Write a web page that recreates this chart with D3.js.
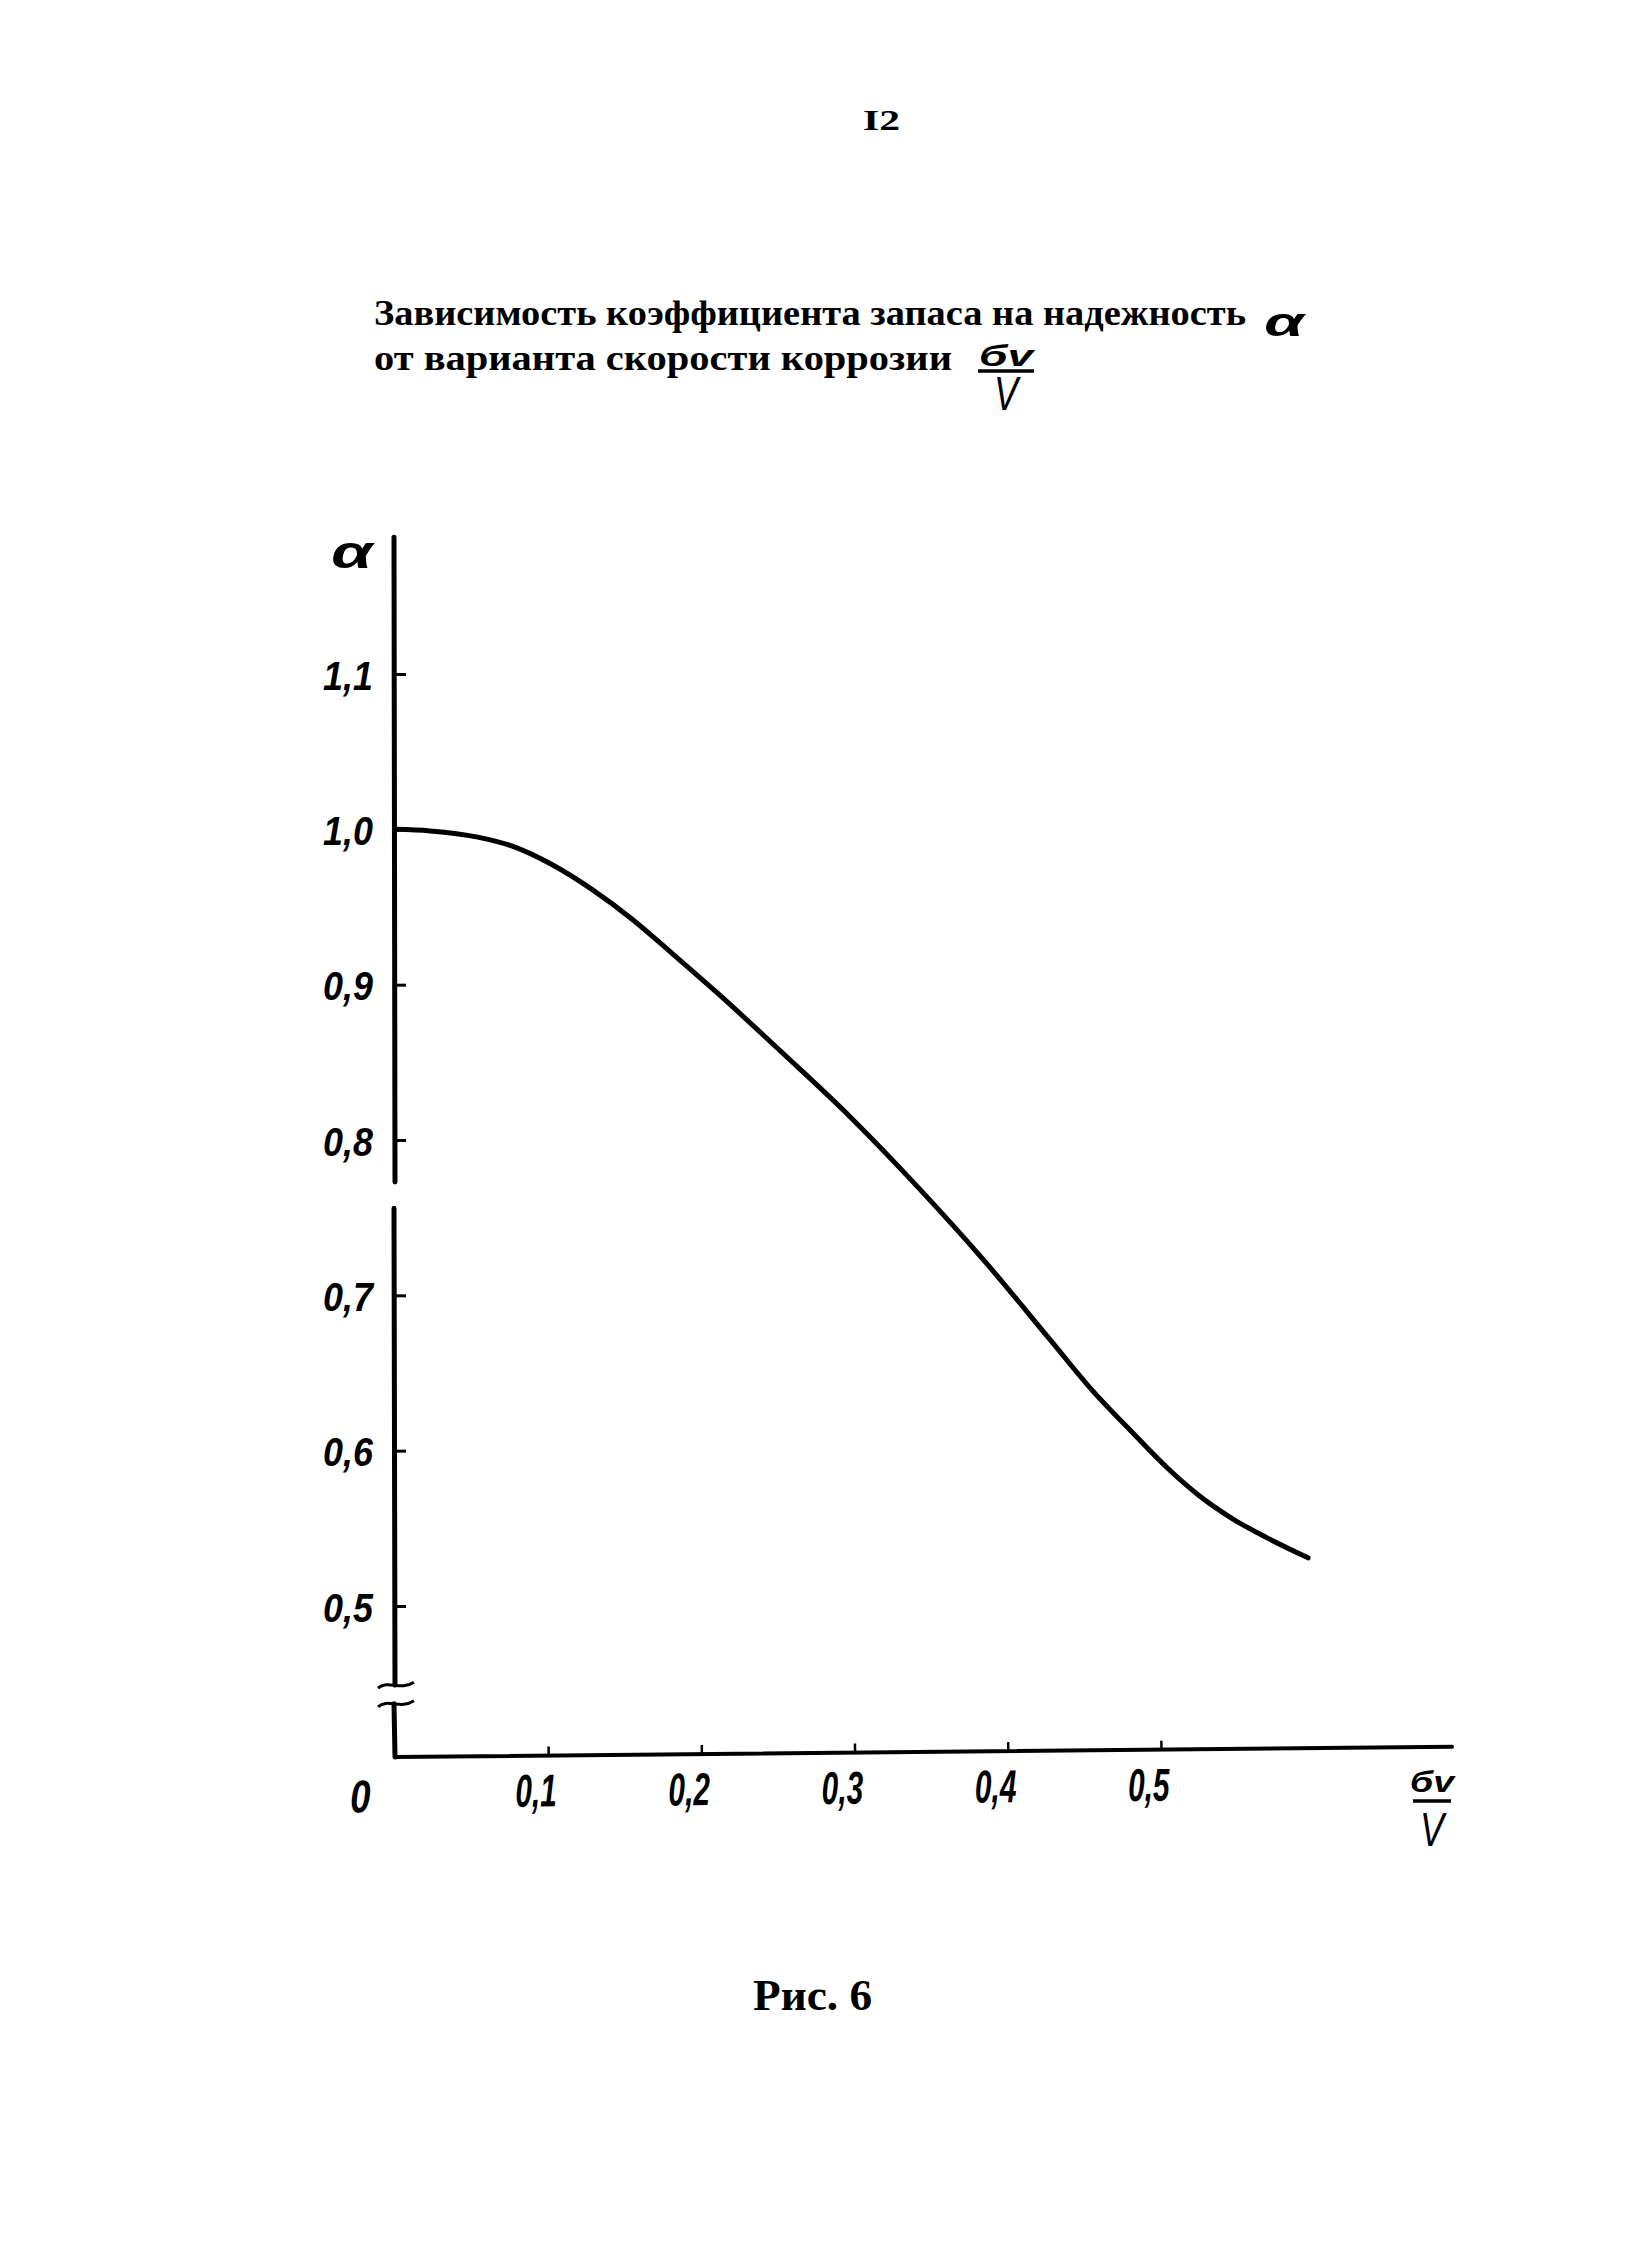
<!DOCTYPE html>
<html><head><meta charset="utf-8">
<script src="https://cdn.jsdelivr.net/npm/d3@7"></script>
<style>body{margin:0;background:#fff}svg{display:block}</style></head>
<body><svg id="c" width="1635" height="2248"></svg>
<script>
// ---- data ----
const pageNumber = "I2";
const titleLine1 = "Зависимость коэффициента запаса на надежность";
const titleLine2 = "от варианта скорости коррозии";
const titleSymbol = "α";
const figureCaption = "Рис. 6";
const yAxisTitle = "α";
const fracNumerator = "бv";
const fracDenominator = "V";
const originLabel = "0";
const xTicks = [0.1, 0.2, 0.3, 0.4, 0.5];
const xTickLabels = ["0,1", "0,2", "0,3", "0,4", "0,5"];
const yTicks = [1.1, 1.0, 0.9, 0.8, 0.7, 0.6, 0.5];
const yTickLabels = ["1,1", "1,0", "0,9", "0,8", "0,7", "0,6", "0,5"];
const ratio = [0, 0.023, 0.054, 0.077, 0.103, 0.129, 0.155, 0.181, 0.21, 0.253, 0.297, 0.341, 0.384, 0.428, 0.455, 0.482, 0.504, 0.525, 0.547, 0.569, 0.596];
const alpha = [1.0, 0.999, 0.995, 0.989, 0.977, 0.961, 0.942, 0.92, 0.895, 0.856, 0.815, 0.77, 0.723, 0.671, 0.639, 0.611, 0.589, 0.571, 0.556, 0.544, 0.531];

// ---- layout ----
const svg = d3.select("#c");
svg.append("rect").attr("width", 1635).attr("height", 2248).attr("fill", "#fff");
const x = d3.scaleLinear().domain([0, 0.5]).range([395, 1161]);
const y = d3.scaleLinear().domain([0.5, 1.1]).range([1606, 674]);
const baseY = 1757;
const ink = "#000";
const serif = "'Liberation Serif', 'DejaVu Serif', serif";
const hand = "'Liberation Sans', 'DejaVu Sans', sans-serif";

// page number
svg.append("text").text(pageNumber)
  .attr("x", 863).attr("y", 130)
  .attr("font-family", serif).attr("font-weight", "bold").attr("font-size", 30)
  .attr("textLength", 37).attr("lengthAdjust", "spacingAndGlyphs").attr("fill", ink);

// title
svg.append("text").text(titleLine1)
  .attr("x", 374).attr("y", 325)
  .attr("font-family", serif).attr("font-weight", "bold").attr("font-size", 36)
  .attr("textLength", 872).attr("lengthAdjust", "spacingAndGlyphs").attr("fill", ink);
svg.append("text").text(titleSymbol)
  .attr("transform", "translate(1284,336) scale(1.6,1)")
  .attr("text-anchor", "middle")
  .attr("font-family", hand).attr("font-style", "italic").attr("font-weight", "bold").attr("font-size", 40).attr("fill", ink);
svg.append("text").text(titleLine2)
  .attr("x", 374).attr("y", 370)
  .attr("font-family", serif).attr("font-weight", "bold").attr("font-size", 36)
  .attr("textLength", 578).attr("lengthAdjust", "spacingAndGlyphs").attr("fill", ink);

function fraction(cx, numBase, barY, denBase, numW, barW) {
  svg.append("text").text(fracNumerator)
    .attr("x", cx - numW / 2).attr("y", numBase)
    .attr("font-family", hand).attr("font-style", "italic").attr("font-weight", "bold").attr("font-size", 30)
    .attr("textLength", numW).attr("lengthAdjust", "spacingAndGlyphs").attr("fill", ink);
  svg.append("line").attr("x1", cx - barW / 2).attr("x2", cx + barW / 2)
    .attr("y1", barY).attr("y2", barY).attr("stroke", ink).attr("stroke-width", 3.5);
  svg.append("text").text(fracDenominator)
    .attr("transform", `translate(${cx},${denBase}) scale(0.75,1)`)
    .attr("text-anchor", "middle")
    .attr("font-family", hand).attr("font-style", "italic").attr("font-size", 48).attr("fill", ink);
}
fraction(1006, 366, 371, 410, 54, 56);

// y axis (broken)
const yg = svg.append("g");
const yAxisSegments = [[y(1.188), y(0.773)], [y(0.756), y(0.449)], [y(0.437), baseY]];
yAxisSegments.forEach(s => {
  yg.append("line").attr("x1", 394).attr("x2", 395).attr("y1", s[0]).attr("y2", s[1])
    .attr("stroke", ink).attr("stroke-width", 5).attr("stroke-linecap", "round");
});
[y(0.449), y(0.437)].forEach(py => {
  yg.append("path")
    .attr("d", `M378,${py + 3} C388,${py - 6} 400,${py + 6} 414,${py - 3}`)
    .attr("fill", "none").attr("stroke", ink).attr("stroke-width", 3);
});
const yAxis = d3.axisLeft(y).tickValues(yTicks).tickSize(-12)
  .tickFormat((d, i) => yTickLabels[i]);
const yAx = svg.append("g").attr("transform", "translate(394,0)").call(yAxis);
yAx.select(".domain").remove();
yAx.selectAll(".tick line").attr("stroke", ink).attr("stroke-width", 3);
yAx.selectAll(".tick text")
  .attr("x", null).attr("dy", null).attr("y", null)
  .attr("text-anchor", "start")
  .attr("transform", "translate(-71,15) scale(0.92,1.05)")
  .attr("font-family", hand).attr("font-style", "italic").attr("font-weight", "bold")
  .attr("font-size", 39).attr("fill", ink);
svg.append("text").text(yAxisTitle)
  .attr("transform", "translate(352,568) scale(1.45,1)")
  .attr("text-anchor", "middle")
  .attr("font-family", hand).attr("font-style", "italic").attr("font-weight", "bold").attr("font-size", 46).attr("fill", ink);

// x axis (slightly tilted as drawn)
const xg = svg.append("g").attr("transform", `rotate(-0.55, 395, ${baseY})`);
xg.append("line").attr("x1", 395).attr("x2", x(0.69)).attr("y1", baseY).attr("y2", baseY)
  .attr("stroke", ink).attr("stroke-width", 4).attr("stroke-linecap", "round");
const xAxis = d3.axisBottom(x).tickValues(xTicks).tickSize(-9)
  .tickFormat((d, i) => xTickLabels[i]);
const xAx = xg.append("g").attr("transform", `translate(0,${baseY})`).call(xAxis);
xAx.select(".domain").remove();
xAx.selectAll(".tick line").attr("stroke", ink).attr("stroke-width", 2.5);
xAx.selectAll(".tick text")
  .attr("y", null).attr("dy", null)
  .attr("text-anchor", "middle")
  .attr("transform", "translate(-13,51) scale(0.65,1)")
  .attr("font-family", hand).attr("font-style", "italic").attr("font-weight", "bold")
  .attr("font-size", 46).attr("fill", ink);
xg.append("text").text(originLabel)
  .attr("transform", `translate(360,${baseY + 55}) scale(0.8,1)`)
  .attr("text-anchor", "middle")
  .attr("font-family", hand).attr("font-style", "italic").attr("font-weight", "bold")
  .attr("font-size", 46).attr("fill", ink);
fraction(1432, 1792, 1801, 1846, 44, 38);

// curve
const pts = ratio.map((r, i) => [r, alpha[i]]);
svg.append("path").datum(pts)
  .attr("d", d3.line().x(d => x(d[0])).y(d => y(d[1])).curve(d3.curveMonotoneX))
  .attr("fill", "none").attr("stroke", ink).attr("stroke-width", 5)
  .attr("stroke-linecap", "round").attr("stroke-linejoin", "round");

// caption
svg.append("text").text(figureCaption)
  .attr("x", 753).attr("y", 2010)
  .attr("font-family", serif).attr("font-weight", "bold").attr("font-size", 44)
  .attr("textLength", 119).attr("lengthAdjust", "spacingAndGlyphs").attr("fill", ink);
</script>
</body></html>
